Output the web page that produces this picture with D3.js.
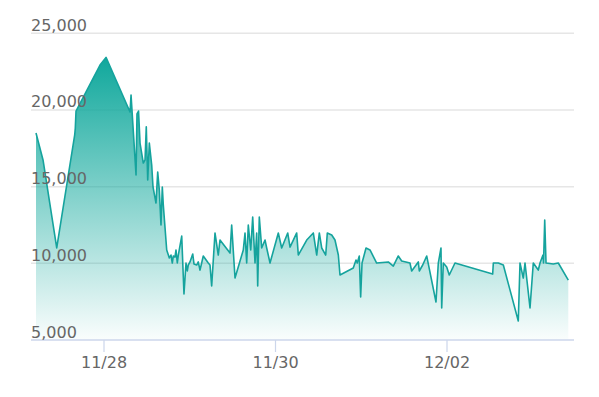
<!DOCTYPE html>
<html>
<head>
<meta charset="utf-8">
<script src="https://cdn.jsdelivr.net/npm/d3@7"></script>
<style>
  html, body { margin: 0; padding: 0; background: #fff; }
  svg { display: block; font-family: "DejaVu Sans", Verdana, sans-serif; }
</style>
</head>
<body>
<div id="chart"></div>
<script>
// timestamps (month/day hour:minute)
const times = [
  "11/27 04:58", "11/27 06:56", "11/27 10:46", "11/27 15:48", "11/27 15:58", "11/27 16:10",
  "11/27 22:53", "11/28 00:34", "11/28 07:17", "11/28 07:34", "11/28 08:58", "11/28 09:14",
  "11/28 09:40", "11/28 10:05", "11/28 11:00", "11/28 11:29", "11/28 11:50", "11/28 12:14",
  "11/28 12:41", "11/28 13:21", "11/28 13:43", "11/28 14:33", "11/28 15:02", "11/28 15:29",
  "11/28 15:57", "11/28 16:19", "11/28 16:36", "11/28 17:33", "11/28 18:17", "11/28 18:45",
  "11/28 19:07", "11/28 19:24", "11/28 19:52", "11/28 20:09", "11/28 20:31", "11/28 20:48",
  "11/28 21:45", "11/28 22:23", "11/28 22:57", "11/28 23:19", "11/28 23:35", "11/29 00:04",
  "11/29 00:50", "11/29 01:11", "11/29 01:56", "11/29 02:23", "11/29 02:52", "11/29 03:20",
  "11/29 03:47", "11/29 05:11", "11/29 05:40", "11/29 06:08", "11/29 07:04", "11/29 07:59",
  "11/29 08:28", "11/29 11:16", "11/29 11:44", "11/29 12:40", "11/29 14:59", "11/29 15:28",
  "11/29 15:56", "11/29 16:23", "11/29 17:04", "11/29 17:37", "11/29 18:16", "11/29 18:44",
  "11/29 19:01", "11/29 19:28", "11/29 20:08", "11/29 21:04", "11/29 21:32", "11/29 22:28",
  "11/30 00:47", "11/30 01:44", "11/30 03:25", "11/30 04:04", "11/30 05:56", "11/30 06:23",
  "11/30 08:44", "11/30 10:35", "11/30 11:32", "11/30 12:16", "11/30 12:56", "11/30 14:03",
  "11/30 14:30", "11/30 15:44", "11/30 16:39", "11/30 17:35", "11/30 18:03", "11/30 21:46",
  "11/30 22:32", "11/30 22:53", "11/30 23:27", "11/30 23:50", "12/01 00:13", "12/01 01:20",
  "12/01 02:27", "12/01 04:19", "12/01 07:34", "12/01 08:58", "12/01 10:22", "12/01 11:19",
  "12/01 13:38", "12/01 14:07", "12/01 15:58", "12/01 16:15", "12/01 17:12", "12/01 18:19",
  "12/01 20:55", "12/01 21:34", "12/01 22:19", "12/01 22:31", "12/01 22:58", "12/01 23:55",
  "12/02 00:38", "12/02 02:14", "12/02 12:47", "12/02 12:58", "12/02 14:22", "12/02 15:46",
  "12/02 19:57", "12/02 20:26", "12/02 21:21", "12/02 21:50", "12/02 23:14", "12/03 00:09",
  "12/03 01:33", "12/03 02:02", "12/03 02:52", "12/03 03:01", "12/03 03:21", "12/03 03:43",
  "12/03 05:45", "12/03 07:09", "12/03 09:57"
];

// values at those timestamps
const values = [
  18500, 16740, 11000, 18370, 18820, 19930,
  22930, 23430, 19870, 20970, 15760, 19740,
  19930, 17840, 16540, 16740, 18910, 15430,
  17840, 16410, 14980, 13930, 15950, 14780,
  12500, 14980, 13800, 10870, 10350, 10540,
  10020, 10480, 10410, 10870, 10020, 10540,
  11780, 8000, 10020, 9500, 9890, 10090,
  10610, 9960, 9890, 10090, 9560, 10020,
  10480, 10020, 9890, 8520, 11980, 10540,
  11520, 10670, 12500, 9040, 10870, 11980,
  10020, 12500, 10870, 13020, 10020, 11980,
  8520, 13020, 11000, 11520, 11000, 10020,
  11980, 11000, 11980, 11060, 11980, 10540,
  11520, 11980, 10540, 11980, 11000, 10540,
  11980, 11850, 11520, 10540, 9240, 9690,
  10220, 10020, 10480, 7800, 10020, 11000,
  10870, 10020, 10090, 9820, 10480, 10150,
  10020, 9500, 10090, 9500, 9890, 10480,
  7480, 10020, 11000, 7090, 10020, 9760,
  9240, 10020, 9300, 10020, 10020, 9890,
  6240, 10020, 9040, 10020, 7090, 10020,
  9560, 10020, 10540, 10020, 12820, 10020,
  9960, 10020, 8910
];

const yTicks = [5000, 10000, 15000, 20000, 25000];
const xTickLabels = ["11/28", "11/30", "12/02"];

const width = 599, height = 397;
const plot = { left: 31, right: 574, top: 33.3, bottom: 340 };
const dataLeft = 36, dataRight = 568.3;

const parse = d3.timeParse("%m/%d %H:%M");
const data = times.map((t, i) => ({ date: parse(t), value: values[i] }));

const svg = d3.select('#chart')
    .append('svg')
    .attr('width', width).attr('height', height);

// scales
const scaleX = d3.scaleTime()
    .domain(d3.extent(data, d => d.date))
    .range([dataLeft, dataRight]);
const scaleY = d3.scaleLinear()
    .domain([5000, 25000])
    .range([plot.bottom, plot.top]);

// gradient for the area
const grad = svg.append('defs').append('linearGradient')
    .attr('id', 'areaFill')
    .attr('x1', 0).attr('y1', 0).attr('x2', 0).attr('y2', 1);
grad.append('stop').attr('offset', '0%').attr('stop-color', '#10a89c').attr('stop-opacity', 1);
grad.append('stop').attr('offset', '100%').attr('stop-color', '#10a89c').attr('stop-opacity', 0.02);

// grid lines
svg.append('g')
    .selectAll('line')
    .data(yTicks.filter(d => d !== 5000))
    .join('line')
    .attr('x1', plot.left).attr('x2', plot.right)
    .attr('y1', d => scaleY(d)).attr('y2', d => scaleY(d))
    .attr('stroke', '#e6e6e6')
    .attr('stroke-width', 1.5);

// area + line
const areaGen = d3.area()
    .x(d => scaleX(d.date))
    .y0(scaleY(5000))
    .y1(d => scaleY(d.value));
svg.append('path')
    .datum(data)
    .attr('fill', 'url(#areaFill)')
    .attr('d', areaGen);

const lineGen = d3.line()
    .x(d => scaleX(d.date))
    .y(d => scaleY(d.value));
svg.append('path')
    .datum(data)
    .attr('fill', 'none')
    .attr('stroke', '#15a39d')
    .attr('stroke-width', 1.6)
    .attr('stroke-linejoin', 'round')
    .attr('d', lineGen);

// bottom axis line
svg.append('line')
    .attr('x1', plot.left).attr('x2', plot.right)
    .attr('y1', plot.bottom).attr('y2', plot.bottom)
    .attr('stroke', '#ccd6eb')
    .attr('stroke-width', 1.5);

// x axis ticks and labels
const xTicks = svg.append('g')
    .selectAll('g')
    .data(xTickLabels)
    .join('g')
    .attr('transform', d => `translate(${scaleX(parse(d + ' 00:00'))},0)`);
xTicks.append('line')
    .attr('y1', plot.bottom).attr('y2', plot.bottom + 12)
    .attr('stroke', '#ccd6eb')
    .attr('stroke-width', 1.2);
xTicks.append('text')
    .attr('y', 368)
    .attr('text-anchor', 'middle')
    .attr('fill', '#666')
    .style('font-size', '16px')
    .text(d => d);

// y axis labels, sitting on top of the grid lines
svg.append('g')
    .selectAll('text')
    .data(yTicks)
    .join('text')
    .attr('x', plot.left)
    .attr('y', d => scaleY(d) - 2.5)
    .attr('fill', '#666')
    .style('font-size', '16px')
    .text(d => d3.format(',')(d));
</script>
</body>
</html>
